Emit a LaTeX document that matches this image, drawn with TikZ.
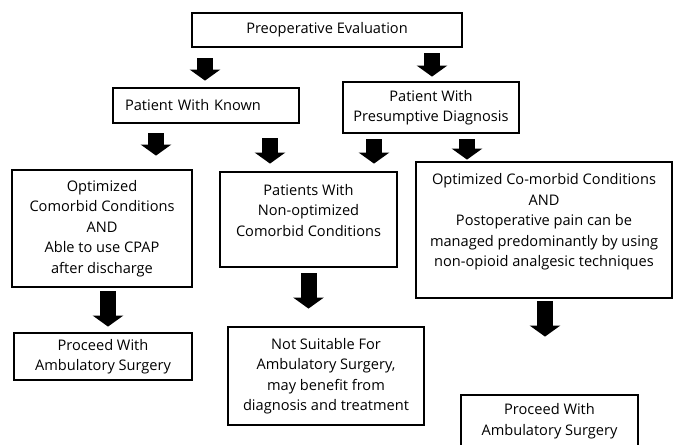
\documentclass[tikz,border=0pt]{standalone}
\usepackage{fontspec}
\setmainfont{Open Sans}
\usetikzlibrary{arrows.meta,calc,positioning}

\begin{document}
\begin{tikzpicture}
[x=1pt, y=-1pt, line width=2.8pt,
entry/.style={rectangle, draw=black, fill=white, align=center, inner sep=0pt,
  font=\fontsize{14.6}{20.5}\selectfont},
fat/.style={line width=16pt, -{Triangle[width=30pt,length=11pt]}}]

\useasboundingbox (0,0) rectangle (674,444);

% boxes, top to bottom
\node[entry, minimum width=270, minimum height=34] (preop) at (327,30) {Preoperative Evaluation};

\node[entry, minimum width=186, minimum height=35, text width=162, align=left] (known) at (206,105.5) {Patient With Known};
\node[entry, minimum width=176, minimum height=51] (presum) at (431,107.5) {Patient With\\Presumptive Diagnosis};

\node[entry, minimum width=180, minimum height=117] (optim) at (102,228.5) {Optimized\\Comorbid Conditions\\AND\\Able to use CPAP\\after discharge};
\node[entry, minimum width=177, minimum height=95, text depth=19pt] (nonopt) at (308.5,219.5) {Patients With\\Non-optimized\\Comorbid Conditions};
\node[entry, minimum width=256, minimum height=136, text depth=20pt] (painbox) at (544,230) {Optimized Co-morbid Conditions\\AND\\Postoperative pain can be\\managed predominantly by using\\non-opioid analgesic techniques};

\node[entry, minimum width=178, minimum height=47] (proceedl) at (103,356.5) {Proceed With\\Ambulatory Surgery};
\node[entry, minimum width=196, minimum height=98] (notsuit) at (326,376) {Not Suitable For\\Ambulatory Surgery,\\may benefit from\\diagnosis and treatment};
\node[entry, minimum width=177, minimum height=52] (proceedr) at (549.5,421) {Proceed With\\Ambulatory Surgery};

% block arrows: source/target/xoffset/gap above/gap below
\foreach \src/\dst/\dx/\ga/\gb in {preop/known/-122/10/6, preop/presum/105/5/4,
  known/optim/-50/9/13, known/nonopt/64/14/7, presum/nonopt/-57/5/7, presum/painbox/36/5/1,
  optim/proceedl/6/3/5, nonopt/notsuit/0/5/17, painbox/proceedr/1/2/57}
{
  \coordinate (s) at ($(\src.south)+(\dx,\ga)$);
  \draw[fat] (s) -- ($(s |- \dst.north)+(0,-\gb)$);
}
\end{tikzpicture}
\end{document}
